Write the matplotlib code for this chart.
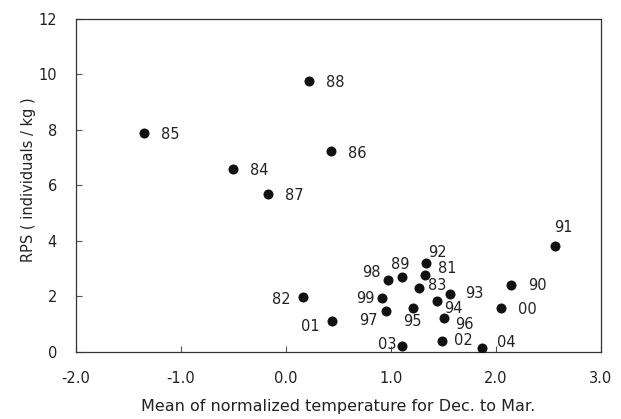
import matplotlib
matplotlib.use('Agg')
from matplotlib import pyplot as plt

plt.rcParams['font.family'] = ['DejaVu Sans']
plt.rcParams['axes.unicode_minus'] = False

# Data
years = ['81', '82', '83', '84', '85', '86', '87', '88', '89', '90', '91', '92',
         '93', '94', '95', '96', '97', '98', '99', '00', '01', '02', '03', '04']
temp = [1.32, 0.16, 1.27, -0.50, -1.35, 0.43, -0.17, 0.22, 1.11, 2.14, 2.56, 1.33,
        1.56, 1.44, 1.21, 1.51, 0.95, 0.97, 0.92, 2.05, 0.44, 1.49, 1.11, 1.87]
rps = [2.77, 1.99, 2.32, 6.60, 7.89, 7.23, 5.70, 9.77, 2.69, 2.43, 3.83, 3.19,
       2.08, 1.84, 1.60, 1.24, 1.48, 2.60, 1.94, 1.60, 1.10, 0.40, 0.22, 0.16]
xticks = [-2.0, -1.0, 0.0, 1.0, 2.0, 3.0]
yticks = [0, 2, 4, 6, 8, 10, 12]

# label placement: (dx px, dy px downward, horizontal alignment)
label_pos = {
    '81': (13, -7, 'left'), '82': (-12, 3, 'right'), '83': (9, -2, 'left'),
    '84': (17, 2, 'left'), '85': (17, 1, 'left'), '86': (17, 2, 'left'),
    '87': (17, 2, 'left'), '88': (17, 2, 'left'), '89': (-2, -13, 'center'),
    '90': (17, 1, 'left'), '91': (9, -18, 'center'), '92': (12, -11, 'center'),
    '93': (15, -1, 'left'), '94': (7, 8, 'left'), '95': (-1, 14, 'center'),
    '96': (11, 7, 'left'), '97': (-8, 10, 'right'), '98': (-7, -7, 'right'),
    '99': (-8, 0, 'right'), '00': (17, 2, 'left'), '01': (-12, 5, 'right'),
    '02': (12, 0, 'left'), '03': (-6, -1, 'right'), '04': (15, -5, 'left'),
}

fig = plt.figure(figsize=(6.21, 4.19), dpi=100)
ax = fig.add_axes([0.1219, 0.1599, 0.8459, 0.7948])

ax.scatter(temp, rps, s=52, color='#111111', zorder=3, linewidths=0)

px = 0.72  # pixel -> point at 100 dpi
for yr, x, y in zip(years, temp, rps):
    dx, dy, ha = label_pos[yr]
    ax.annotate(yr, (x, y), xytext=(dx * px, -dy * px), textcoords='offset points',
                ha=ha, va='center', fontsize=10.5, color='#222222')

ax.set_xlim(-2, 3)
ax.set_ylim(0, 12)
ax.set_xticks(xticks)
ax.set_xticklabels(['%.1f' % t for t in xticks])
ax.set_yticks(yticks)
ax.tick_params(direction='in', length=4, width=0.8, color='#555555',
               labelsize=10.5, labelcolor='#222222')
ax.tick_params(axis='x', pad=13.5)
ax.tick_params(axis='y', pad=13.5)
for sp in ax.spines.values():
    sp.set_color('#333333')
    sp.set_linewidth(0.9)

ax.set_xlabel('Mean of normalized temperature for Dec. to Mar.', fontsize=11.5, color='#222222')
ax.set_ylabel('RPS ( individuals / kg )', fontsize=10.5, color='#222222')
ax.xaxis.set_label_coords(0.5, -0.141)
ax.yaxis.set_label_coords(-0.0756, 0.517)

fig.savefig('out.png', dpi=100)
